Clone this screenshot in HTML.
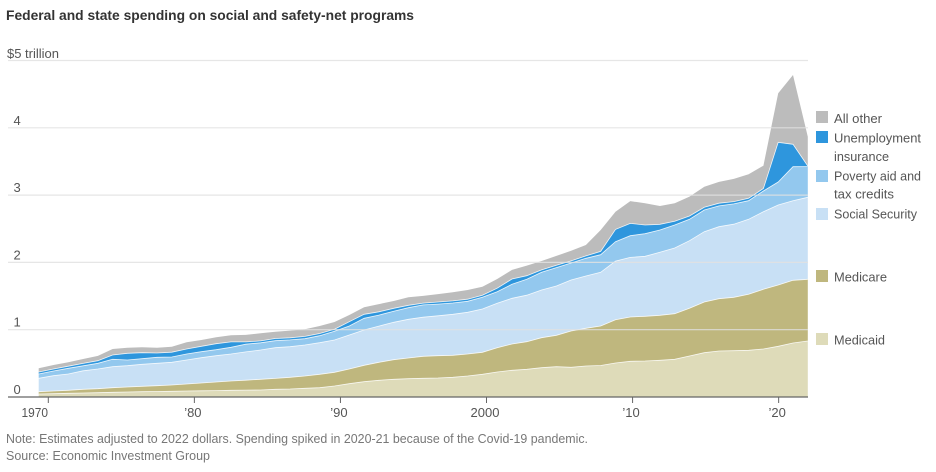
<!DOCTYPE html>
<html lang="en">
<head>
<meta charset="utf-8">
<title>Federal and state spending on social and safety-net programs</title>
<style>
html,body{margin:0;padding:0;background:#fff}
svg{display:block;font-family:"Liberation Sans",sans-serif}
</style>
</head>
<body>
<svg id="chart" width="936" height="472" viewBox="0 0 936 472" xmlns="http://www.w3.org/2000/svg">
  <text x="6" y="20" font-size="13.5" font-weight="700" fill="#333" textLength="408" lengthAdjust="spacingAndGlyphs">Federal and state spending on social and safety-net programs</text>
  <g id="areas"></g>
  <g id="grid"></g>
  <g id="axes"></g>
  <g font-size="13" fill="#555">
    <g>
      <rect x="816" y="111" width="12" height="12" fill="#bcbcbc"/>
      <text x="834" y="123" textLength="48" lengthAdjust="spacingAndGlyphs">All other</text>
    </g>
    <g>
      <rect x="816" y="131" width="12" height="12" fill="#2e96dd"/>
      <text x="834" y="142.5" textLength="87" lengthAdjust="spacingAndGlyphs">Unemployment</text>
      <text x="834" y="161" textLength="55" lengthAdjust="spacingAndGlyphs">insurance</text>
    </g>
    <g>
      <rect x="816" y="170" width="12" height="12" fill="#93c8ee"/>
      <text x="834" y="180.5" textLength="87" lengthAdjust="spacingAndGlyphs">Poverty aid and</text>
      <text x="834" y="198.5" textLength="60" lengthAdjust="spacingAndGlyphs">tax credits</text>
    </g>
    <g>
      <rect x="816" y="208" width="12" height="12" fill="#c8e0f5"/>
      <text x="834" y="218.5" textLength="83" lengthAdjust="spacingAndGlyphs">Social Security</text>
    </g>
    <g>
      <rect x="816" y="270" width="12" height="12" fill="#bfb77e"/>
      <text x="834" y="281.5" textLength="53" lengthAdjust="spacingAndGlyphs">Medicare</text>
    </g>
    <g>
      <rect x="816" y="333" width="12" height="12" fill="#dedbb9"/>
      <text x="834" y="344.5" textLength="51" lengthAdjust="spacingAndGlyphs">Medicaid</text>
    </g>
  </g>
  <text x="6" y="443" font-size="12.5" fill="#777" textLength="582" lengthAdjust="spacingAndGlyphs">Note: Estimates adjusted to 2022 dollars. Spending spiked in 2020-21 because of the Covid-19 pandemic.</text>
  <text x="6" y="460" font-size="12.5" fill="#777" textLength="204" lengthAdjust="spacingAndGlyphs">Source: Economic Investment Group</text>
</svg>
<script>
var firstYear = 1970;
var medicaid = [.045,.049,.055,.059,.064,.070,.074,.079,.082,.085,.089,.092,.095,.100,.103,.104,.114,.119,.129,.138,.163,.198,.227,.248,.263,.272,.278,.282,.293,.312,.337,.372,.397,.412,.435,.450,.441,.461,.468,.505,.530,.535,.545,.560,.609,.658,.684,.688,.694,.713,.753,.802,.832];
var medicare = [.034,.040,.045,.055,.059,.068,.074,.080,.086,.094,.104,.116,.128,.138,.146,.159,.163,.174,.183,.199,.204,.218,.244,.267,.291,.308,.327,.331,.327,.327,.327,.361,.391,.410,.446,.467,.539,.560,.587,.643,.658,.664,.669,.678,.709,.753,.777,.794,.832,.887,.911,.932,.917];
var socialSecurity = [.199,.227,.242,.276,.293,.312,.317,.327,.333,.337,.357,.376,.391,.401,.421,.435,.455,.455,.461,.470,.480,.505,.525,.539,.556,.575,.580,.594,.609,.620,.643,.660,.679,.690,.709,.733,.758,.777,.798,.872,.887,.892,.936,.976,1.005,1.045,1.070,1.085,1.115,1.153,1.189,1.183,1.219];
var povertyAid = [.064,.070,.085,.074,.085,.110,.085,.083,.089,.079,.089,.089,.089,.100,.114,.108,.104,.100,.094,.104,.129,.134,.174,.163,.163,.172,.183,.174,.168,.163,.174,.172,.208,.238,.263,.272,.253,.263,.262,.287,.321,.336,.331,.342,.318,.322,.308,.302,.276,.308,.342,.505,.455];
var unemployment = [.030,.030,.030,.036,.039,.064,.100,.089,.064,.070,.074,.080,.089,.079,.034,.027,.033,.031,.033,.033,.031,.064,.059,.049,.045,.036,.027,.031,.031,.031,.031,.051,.079,.053,.036,.037,.031,.036,.048,.184,.184,.129,.085,.055,.049,.040,.040,.034,.036,.037,.590,.333,.010];
var allOther = [.055,.059,.059,.064,.070,.089,.083,.080,.079,.083,.100,.094,.095,.100,.104,.113,.101,.107,.107,.111,.107,.100,.104,.114,.108,.119,.107,.117,.128,.137,.126,.138,.134,.149,.132,.137,.151,.162,.319,.262,.331,.322,.272,.267,.287,.306,.317,.337,.357,.339,.728,1.030,.435];
var seriesNames = ['medicaid','medicare','social-security','poverty-aid','unemployment-insurance','all-other'];
var seriesColors = ['#dedbb9','#bfb77e','#c8e0f5','#93c8ee','#2e96dd','#bcbcbc'];
var yTicks = [0,1,2,3,4,5];
var yTickLabels = ['0','1','2','3','4','$5 trillion'];
var xTicks = [1970,1980,1990,2000,2010,2020];
var xTickLabels = ['1970',"\u201980","\u201990",'2000',"\u201910","\u201920"];

var NS = 'http://www.w3.org/2000/svg';
function x(i){ return 38.7 + i * 14.79; }
function y(v){ return 397 - v * 67.3; }
function tickX(year){ return 48.3 + (year - firstYear) * 14.607; }
function make(tag, attrs, parent){
  var el = document.createElementNS(NS, tag);
  for (var k in attrs) el.setAttribute(k, attrs[k]);
  parent.appendChild(el);
  return el;
}

var series = [medicaid, medicare, socialSecurity, povertyAid, unemployment, allOther];
var areas = document.getElementById('areas');
var lower = medicaid.map(function(){ return 0; });
series.forEach(function(vals, s){
  var upper = vals.map(function(v, i){ return lower[i] + v; });
  var top = upper.map(function(v, i){ return x(i).toFixed(1) + ',' + y(v).toFixed(1); });
  var bottom = lower.map(function(v, i){ return x(i).toFixed(1) + ',' + y(v).toFixed(1); }).reverse();
  var area = make('polygon', {points: top.concat(bottom).join(' '), fill: seriesColors[s]}, areas);
  
  
  lower = upper;
});
lower = medicaid.map(function(){ return 0; });
series.forEach(function(vals, s){
  var upper = vals.map(function(v, i){ return lower[i] + v; });
  if (s < series.length - 1) {
    var line = make('polyline', {points: upper.map(function(v, i){ return x(i).toFixed(1) + ',' + y(v).toFixed(1); }).join(' '), fill: 'none', stroke: '#fff', 'stroke-width': 0.8, opacity: 0.85}, areas);
    
    
  }
  lower = upper;
});

var grid = document.getElementById('grid');
var axes = document.getElementById('axes');
yTicks.forEach(function(t, i){
  if (t > 0) {
    var g = make('line', {x1: 8, x2: 808, y1: y(t), y2: y(t), stroke: '#e2e2e2', 'stroke-width': 1.2, opacity: 0.85}, grid);
    
    
  }
  var label = make('text', {x: t === 5 ? 7 : 13.5, y: t === 0 ? 394 : (t === 5 ? y(t) - 2.5 : y(t) - 3), 'font-size': 13, fill: '#555'}, axes);
  label.textContent = yTickLabels[i];
  if (t === 5) { label.setAttribute('textLength', 52); label.setAttribute('lengthAdjust', 'spacingAndGlyphs'); }
  
  
});
var baseline = make('line', {x1: 8, x2: 808, y1: 397, y2: 397, stroke: '#666', 'stroke-width': 1.2}, axes);


xTicks.forEach(function(t, i){
  var px = tickX(t);
  var mark = make('line', {x1: px, x2: px, y1: 397, y2: 403, stroke: '#666', 'stroke-width': 1}, axes);
  
  
  var label = make('text', {x: i === 0 ? 21.5 : px - 1.5, y: 417, 'font-size': 13, fill: '#555', 'text-anchor': i === 0 ? 'start' : 'middle'}, axes);
  label.textContent = xTickLabels[i];
  if (i === 0) { label.setAttribute('textLength', 26.5); label.setAttribute('lengthAdjust', 'spacingAndGlyphs'); }
  
  
});
</script>
</body>
</html>
